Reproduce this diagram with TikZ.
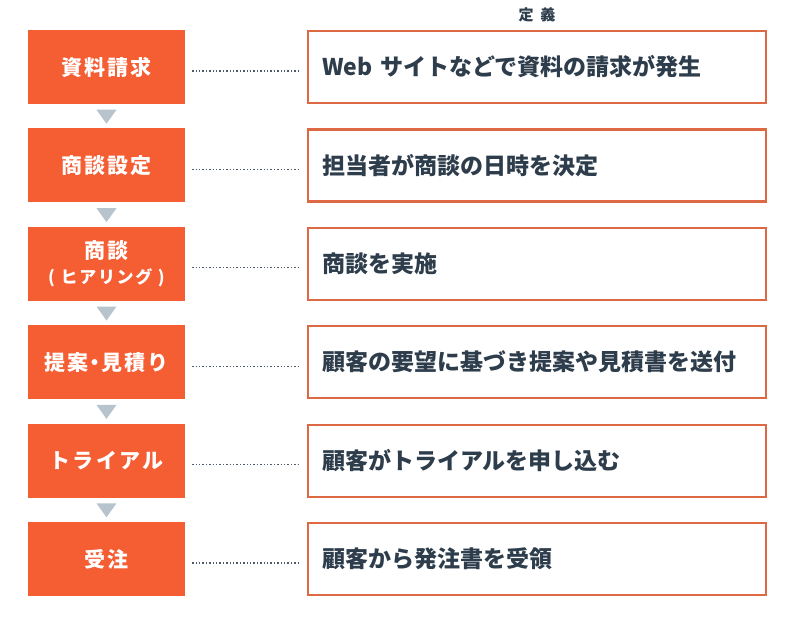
\documentclass[tikz,border=0pt]{standalone}
\usepackage{fontspec}
\setmainfont{Noto Sans CJK JP}
\usetikzlibrary{calc}
\definecolor{stepfill}{HTML}{F55D33}
\definecolor{defborder}{HTML}{DD6844}
\definecolor{deftext}{HTML}{2E3D4C}
\definecolor{trifill}{HTML}{B7C4CE}
\tikzset{
  stepbox/.style={fill=stepfill, minimum width=157pt, minimum height=74pt, inner sep=0pt,
    text=white, font=\fontsize{21pt}{27pt}\selectfont\bfseries\addfontfeatures{LetterSpace=10}, align=center},
  defbox/.style={draw=defborder, line width=2.2pt, fill=white, minimum width=458pt, minimum height=72pt,
    inner xsep=14pt, text width=430pt, align=left, text=deftext,
    font=\fontsize{23pt}{27pt}\selectfont\bfseries},
  leader/.style={draw=deftext!85, line width=1.3pt, dash pattern=on 1.3pt off 2.1pt},
  tri/.style={fill=trifill}
}
\begin{document}
\begin{tikzpicture}[x=1pt,y=-1pt]
\useasboundingbox[fill=white] (0,0) rectangle (800,630);
\node[text=deftext, font=\fontsize{15pt}{17pt}\selectfont\bfseries] (hd) at (537,15) {定\hspace{7pt}義};
\foreach \i/\cy/\lt/\rt in {
  1/67/{資料請求}/{Web サイトなどで資料の請求が発生},
  2/165.4/{商談設定}/{担当者が商談の日時を決定},
  3/263.8/{商談\\[-2pt]{\fontsize{17pt}{20pt}\selectfont ( ヒアリング )}}/{商談を実施},
  4/362.2/{提案\hspace{-4pt}・\hspace{-4pt}見積り}/{顧客の要望に基づき提案や見積書を送付},
  5/460.6/{トライアル}/{顧客がトライアルを申し込む},
  6/559/{受注}/{顧客から発注書を受領}} {
  \node[stepbox] (l\i) at (106.5,\cy) {\lt};
  \node[defbox] (r\i) at (537,\cy) {\rt};
  \draw[leader] ($(l\i.east)+(7,4)$) -- ($(r\i.west)+(-9,4)$);
}
\foreach \i in {1,...,5} {
  \fill[tri] ($(l\i.south)+(-10,5.5)$) -- ++(20,0) -- ++(-10,14) -- cycle;
}
\end{tikzpicture}
\end{document}
